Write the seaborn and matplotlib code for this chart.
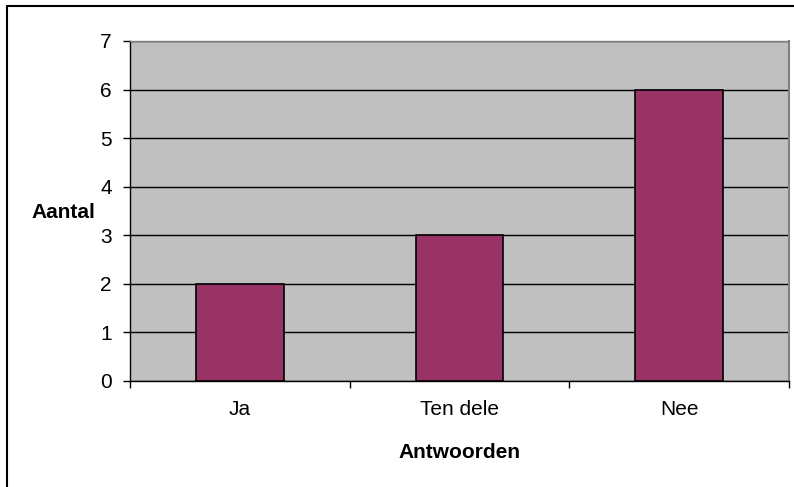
import matplotlib
matplotlib.use("Agg")
import matplotlib.pyplot as plt
import seaborn as sns
import pandas as pd
from matplotlib.lines import Line2D

categories = ["Ja", "Ten dele", "Nee"]
values = [2, 3, 6]
yticks = [0, 1, 2, 3, 4, 5, 6, 7]

sns.set_style("white")
plt.rcParams['font.family'] = ['Liberation Sans', 'DejaVu Sans']
plt.rcParams['text.color'] = 'black'
plt.rcParams['axes.labelcolor'] = 'black'
plt.rcParams['xtick.color'] = 'black'
plt.rcParams['ytick.color'] = 'black'

df = pd.DataFrame({"Antwoorden": categories, "Aantal": values})

fig = plt.figure(figsize=(7.94, 4.87), dpi=100)
W, H = 794, 487
ax = fig.add_axes([130 / W, 1 - 381 / H, (789 - 130) / W, (381 - 41) / H])
ax.set_facecolor("#C0C0C0")

sns.barplot(data=df, x="Antwoorden", y="Aantal", color="#993366", width=0.4,
            edgecolor="black", linewidth=1.2, saturation=1, ax=ax, zorder=3)

FS = 15
ax.set_ylim(0, 7)
ax.set_xlim(-0.5, 2.5)
ax.set_yticks(yticks)
ax.yaxis.grid(True, color="black", linewidth=1, zorder=1)
ax.set_axisbelow(True)
ax.tick_params(axis="y", direction="out", length=5, width=1, color="black",
               labelsize=FS, labelcolor="black", pad=8, left=True)
ax.set_xticks([0, 1, 2])
ax.set_xticklabels(categories)
ax.tick_params(axis="x", length=0, labelsize=FS, labelcolor="black", pad=14)
ax.set_xticks([-0.5, 0.5, 1.5, 2.5], minor=True)
ax.tick_params(axis="x", which="minor", direction="out", length=5, width=1, color="black", bottom=True)

for s in ["left", "bottom"]:
    ax.spines[s].set_visible(True)
    ax.spines[s].set_color("black")
    ax.spines[s].set_linewidth(1)
ax.spines["top"].set_visible(True)
ax.spines["top"].set_color("#808080")
ax.spines["top"].set_linewidth(1)
ax.spines["right"].set_visible(True)
ax.spines["right"].set_color("#808080")
ax.spines["right"].set_linewidth(1.5)

ax.set_xlabel("Antwoorden", fontsize=FS, fontweight="bold", color="black", labelpad=17)
ax.set_ylabel("Aantal", fontsize=FS, fontweight="bold", color="black", rotation=0)
ax.yaxis.set_label_coords((63 - 130) / (789 - 130), (381 - 212) / (381 - 41))
ax.yaxis.label.set_va("center")
ax.yaxis.label.set_ha("center")

# outer chart frame (left and top edges visible)
fig.add_artist(Line2D([7 / W, 7 / W], [0, 1 - 6 / H], color="black", linewidth=1.5, transform=fig.transFigure))
fig.add_artist(Line2D([7 / W, 1], [1 - 6 / H, 1 - 6 / H], color="black", linewidth=1.5, transform=fig.transFigure))

fig.savefig("out.png", dpi=100)
